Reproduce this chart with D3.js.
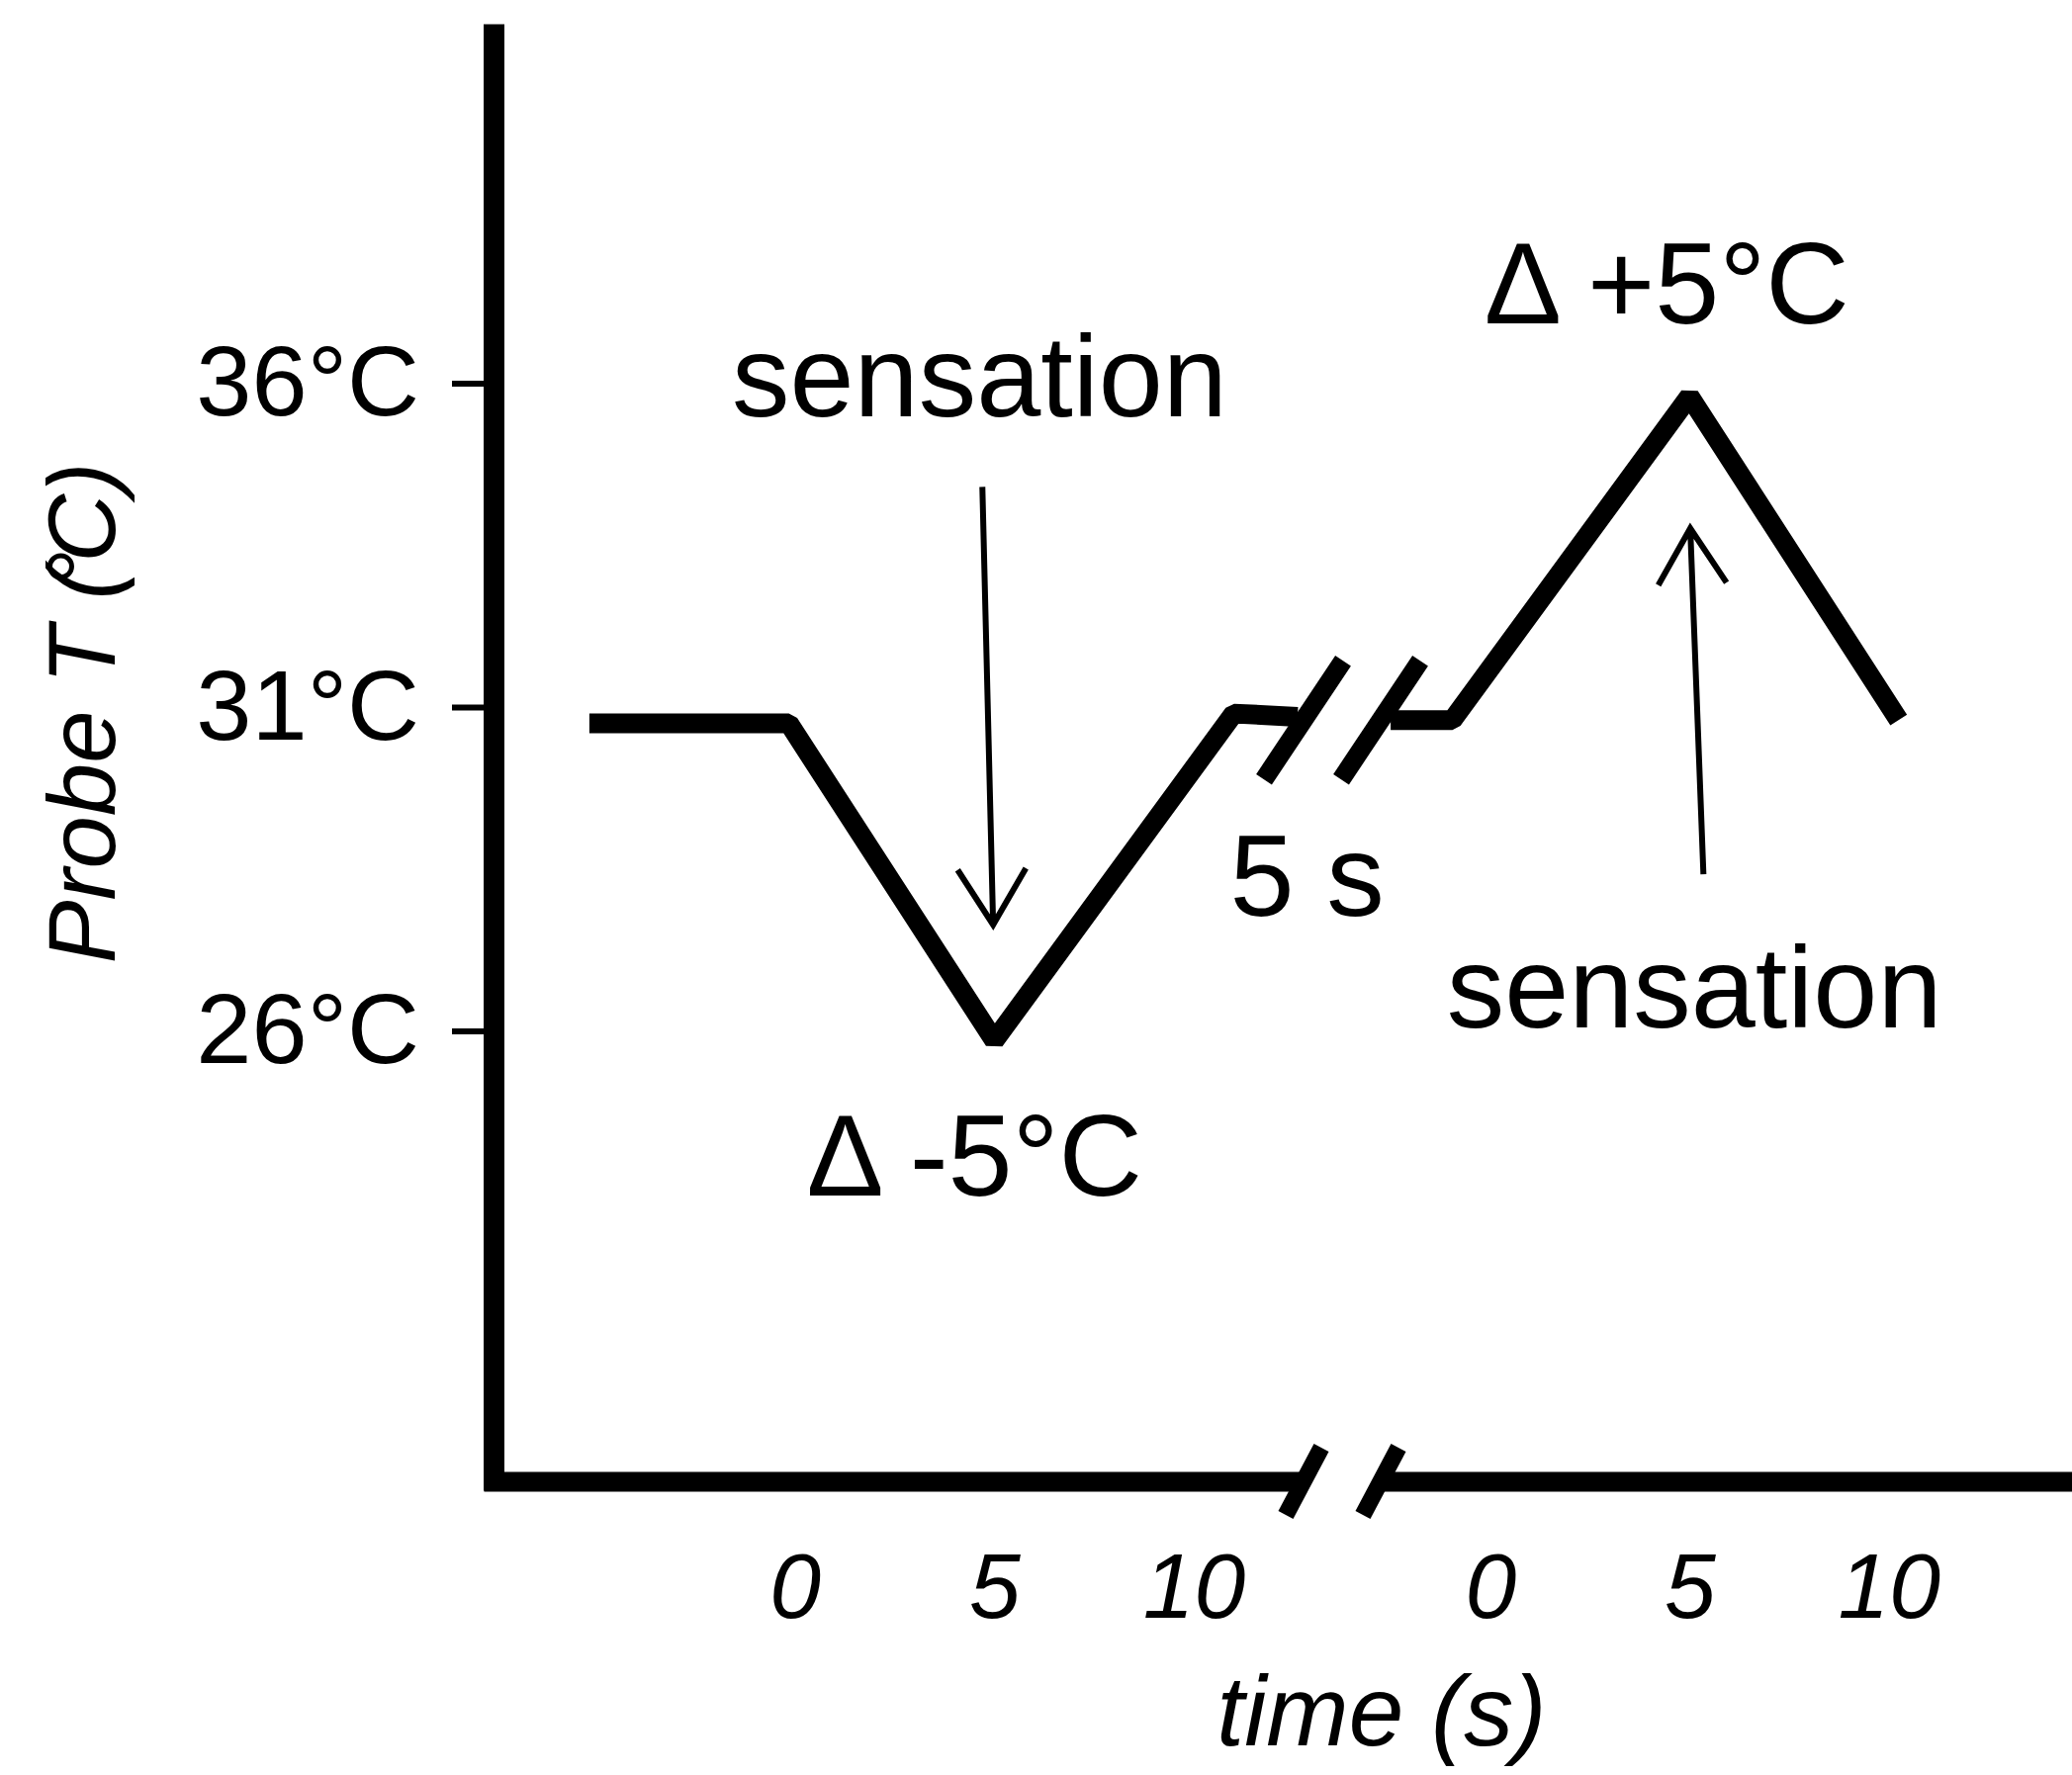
<!DOCTYPE html>
<html>
<head>
<meta charset="utf-8">
<script src="https://cdn.jsdelivr.net/npm/d3@7"></script>
<style>
  body { margin: 0; background: #fff; }
  svg { display: block; font-family: "Liberation Sans", Arial, sans-serif; }
</style>
</head>
<body>
<svg></svg>
<script>
let width = 2095, height = 1795;

let svg = d3.select("svg")
    .attr("width", width)
    .attr("height", height)
    .attr("viewBox", "0 0 " + width + " " + height);

// temperature ticks (°C)
var yTicks = [26, 31, 36];
// time ticks (s), same on both sides of the break
var xTicks = [0, 5, 10];

// probe temperature traces, [time s, °C], one per side of the break
var coolTrace = [[-5.15, 30.75], [-0.15, 30.75], [5.0, 25.85], [11.0, 30.9], [12.6, 30.85]];
var warmTrace = [[-2.5, 30.8], [-0.95, 30.8], [5.0, 35.8], [10.25, 30.8]];

// sensation arrows, [from, to] as [time s, °C]
var coolArrow = [[4.7, 34.4], [4.97, 27.64]];
var warmArrow = [[5.35, 28.42], [5.02, 33.76]];

// annotation labels
var coolLabels = [
    { t: 4.63, v: 35.49, text: "sensation" },
    { t: 4.5, v: 23.46, text: "\u0394 -5\u00b0C" },
    { t: 12.84, v: 27.78, text: "5 s" }
];
var warmLabels = [
    { t: 4.43, v: 36.92, text: "\u0394 +5\u00b0C" },
    { t: 5.12, v: 26.05, text: "sensation" }
];

// break positions on each time scale
var breakLeft = 12.75, breakRight = -2.75;

// scales: the time axis is broken into two pieces
var y = d3.scaleLinear().domain([18.91, 41.55]).range([1507, 24]);
var x1 = d3.scaleLinear().domain([-7.8, 12.7]).range([489, 1316]);
var x2 = d3.scaleLinear().domain([-2.8, 14.6]).range([1394, 2095]);

// y axis
var yAxis = d3.axisLeft(y)
    .tickValues(yTicks)
    .tickFormat(d => d + "\u00b0C")
    .tickSize(42)
    .tickSizeOuter(0)
    .tickPadding(33);

let gy = svg.append("g")
    .attr("transform", "translate(499,0)")
    .call(yAxis);
gy.select(".domain").attr("stroke", "#000").attr("stroke-width", 21);
gy.selectAll(".tick line").attr("stroke", "#000").attr("stroke-width", 6);
gy.selectAll(".tick text")
    .attr("font-size", 101)
    .attr("fill", "#000")
    .style("font-family", "Liberation Sans, Arial, sans-serif");

// x axes (two pieces)
function drawX(scale) {
    let ax = d3.axisBottom(scale)
        .tickValues(xTicks)
        .tickSize(0)
        .tickSizeOuter(0)
        .tickPadding(72);
    let g = svg.append("g")
        .attr("transform", "translate(0,1498)")
        .call(ax);
    g.select(".domain").attr("stroke", "#000").attr("stroke-width", 20);
    g.selectAll(".tick text")
        .attr("font-size", 93)
        .attr("font-style", "italic")
        .attr("fill", "#000")
        .style("font-family", "Liberation Sans, Arial, sans-serif");
    return g;
}
drawX(x1);
drawX(x2);

// axis break marks
[x1(breakLeft), x2(breakRight)].forEach(cx => {
    svg.append("line")
        .attr("x1", cx - 18).attr("y1", 1498 + 34)
        .attr("x2", cx + 18).attr("y2", 1498 - 34)
        .attr("stroke", "#000")
        .attr("stroke-width", 17);
});

// traces
let line1 = d3.line().x(d => x1(d[0])).y(d => y(d[1]));
let line2 = d3.line().x(d => x2(d[0])).y(d => y(d[1]));

svg.append("path")
    .attr("d", line1(coolTrace))
    .attr("fill", "none")
    .attr("stroke", "#000")
    .attr("stroke-width", 20)
    .attr("stroke-linejoin", "bevel");

svg.append("path")
    .attr("d", line2(warmTrace))
    .attr("fill", "none")
    .attr("stroke", "#000")
    .attr("stroke-width", 20)
    .attr("stroke-linejoin", "bevel");

// trace break marks
[x1(breakLeft), x2(breakRight)].forEach(cx => {
    let cy = y(30.8);
    svg.append("line")
        .attr("x1", cx - 40).attr("y1", cy + 60)
        .attr("x2", cx + 40).attr("y2", cy - 60)
        .attr("stroke", "#000")
        .attr("stroke-width", 19);
});

// arrows
function arrow(scale, pts) {
    let ax = scale(pts[0][0]), ay = y(pts[0][1]);
    let bx = scale(pts[1][0]), by = y(pts[1][1]);
    let ang = Math.atan2(by - ay, bx - ax);
    let len = 66, spread = 0.55;
    let w1 = [bx - len * Math.cos(ang - spread), by - len * Math.sin(ang - spread)];
    let w2 = [bx - len * Math.cos(ang + spread), by - len * Math.sin(ang + spread)];
    svg.append("path")
        .attr("d", "M" + ax + "," + ay + "L" + bx + "," + by +
            "M" + w1[0] + "," + w1[1] + "L" + bx + "," + by + "L" + w2[0] + "," + w2[1])
        .attr("fill", "none")
        .attr("stroke", "#000")
        .attr("stroke-width", 6)
        .attr("stroke-linejoin", "miter");
}
arrow(x1, coolArrow);
arrow(x2, warmArrow);

// annotation text
function labels(scale, list) {
    svg.append("g")
        .selectAll("text")
        .data(list)
        .enter()
        .append("text")
        .attr("x", d => scale(d.t))
        .attr("y", d => y(d.v))
        .attr("text-anchor", "middle")
        .attr("font-size", 117)
        .attr("fill", "#000")
        .text(d => d.text);
}
labels(x1, coolLabels);
labels(x2, warmLabels);

// axis titles
let yTitle = svg.append("text")
    .attr("transform", "translate(116,721) rotate(-90)")
    .attr("text-anchor", "middle")
    .attr("font-size", 96)
    .attr("font-style", "italic")
    .attr("fill", "#000");
yTitle.append("tspan").text("Probe T (");
yTitle.append("tspan").attr("dx", "-0.22em").text("\u00b0");
yTitle.append("tspan").attr("dx", "-0.12em").text("C)");

svg.append("text")
    .attr("x", 1397)
    .attr("y", 1765)
    .attr("text-anchor", "middle")
    .attr("font-size", 100)
    .attr("font-style", "italic")
    .attr("fill", "#000")
    .text("time (s)");
</script>
</body>
</html>
